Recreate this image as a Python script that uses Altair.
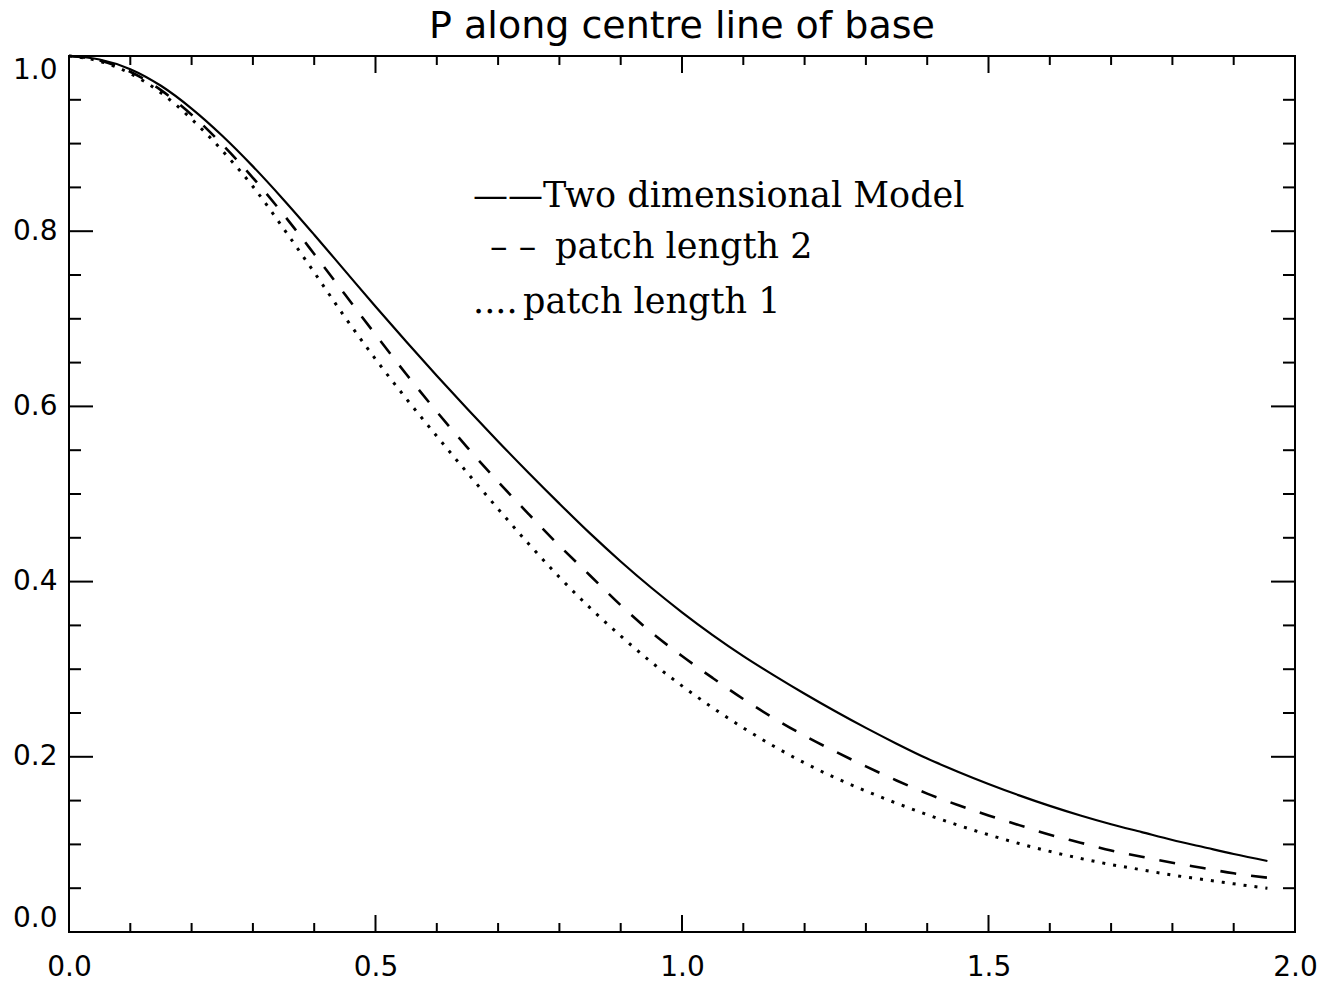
import altair as alt
import pandas as pd

# ---- data ----
x_vals = [0.00, 0.05, 0.10, 0.15, 0.20, 0.25, 0.30, 0.35, 0.40, 0.45,
          0.50, 0.55, 0.60, 0.65, 0.70, 0.75, 0.80, 0.85, 0.90, 0.95,
          1.00, 1.05, 1.10, 1.15, 1.20, 1.25, 1.30, 1.35, 1.40, 1.45,
          1.50, 1.55, 1.60, 1.65, 1.70, 1.75, 1.80, 1.85, 1.90, 1.955]

two_dim = [1.000, 0.996, 0.985, 0.966, 0.940, 0.909, 0.874, 0.836, 0.796, 0.755,
           0.714, 0.674, 0.635, 0.597, 0.560, 0.524, 0.489, 0.455, 0.423, 0.393,
           0.365, 0.339, 0.315, 0.293, 0.272, 0.252, 0.233, 0.215, 0.198, 0.183,
           0.169, 0.156, 0.144, 0.133, 0.123, 0.114, 0.105, 0.097, 0.089, 0.081]

patch2 = [1.000, 0.995, 0.982, 0.961, 0.933, 0.899, 0.861, 0.819, 0.774, 0.728,
          0.682, 0.637, 0.594, 0.553, 0.514, 0.477, 0.441, 0.407, 0.373, 0.342,
          0.315, 0.290, 0.266, 0.244, 0.224, 0.206, 0.189, 0.173, 0.158, 0.145,
          0.133, 0.122, 0.111, 0.102, 0.093, 0.086, 0.079, 0.073, 0.067, 0.062]

patch1 = [1.000, 0.994, 0.980, 0.958, 0.928, 0.892, 0.851, 0.803, 0.753, 0.702,
          0.654, 0.609, 0.566, 0.524, 0.483, 0.443, 0.405, 0.370, 0.338, 0.308,
          0.281, 0.256, 0.233, 0.212, 0.193, 0.176, 0.161, 0.147, 0.134, 0.122,
          0.111, 0.101, 0.092, 0.084, 0.077, 0.071, 0.065, 0.060, 0.055, 0.050]

series_names = ["Two dimensional Model", "patch length 2", "patch length 1"]
legend_symbols = ["\u2014\u2014", "\u2013 \u2013", "...."]

x_major = [0.0, 0.5, 1.0, 1.5, 2.0]
x_minor = [0.1, 0.2, 0.3, 0.4, 0.6, 0.7, 0.8, 0.9, 1.1, 1.2, 1.3, 1.4,
           1.6, 1.7, 1.8, 1.9]
y_major = [0.0, 0.2, 0.4, 0.6, 0.8, 1.0]
y_minor = [0.05, 0.10, 0.15, 0.25, 0.30, 0.35, 0.45, 0.50, 0.55, 0.65,
           0.70, 0.75, 0.85, 0.90, 0.95]

title_text = "P along centre line of base"

# ---- build tables ----
rows = []
for name, ys in zip(series_names, [two_dim, patch2, patch1]):
    for xv, yv in zip(x_vals, ys):
        rows.append({"x": xv, "y": yv, "series": name})
df = pd.DataFrame(rows)

W, H = 1226, 876
xscale = alt.Scale(domain=[0, 2], nice=False, zero=False)
yscale = alt.Scale(domain=[0, 1], nice=False, zero=False)

x_axis = alt.Axis(values=x_major, format=".1f", ticks=False, tickSize=0, domain=False,
                  grid=False, labelFont="DejaVu Sans", labelFontSize=28,
                  labelColor="black", labelPadding=21, labelFlush=False, title=None)
y_axis = alt.Axis(values=y_major, format=".1f", ticks=False, tickSize=0, domain=False,
                  grid=False, labelFont="DejaVu Sans", labelFontSize=28,
                  labelColor="black", labelPadding=12, labelFlush=True, title=None)

base = alt.Chart(df)
styles = [
    dict(strokeWidth=2.2),
    dict(strokeWidth=2.6, strokeDash=[16, 15]),
    dict(strokeWidth=3.0, strokeDash=[3, 8]),
]
line_layers = []
for name, st in zip(series_names, styles):
    line_layers.append(
        base.transform_filter(alt.datum.series == name)
        .mark_line(color="black", interpolate="monotone", **st)
        .encode(x=alt.X("x:Q", scale=xscale, axis=x_axis),
                y=alt.Y("y:Q", scale=yscale, axis=y_axis))
    )

def xticks(vals, length, top):
    d = pd.DataFrame({"v": vals})
    if top:
        ys = dict(y=alt.value(0), y2=alt.value(length))
    else:
        ys = dict(y=alt.value(H), y2=alt.value(H - length))
    return alt.Chart(d).mark_rule(color="black", strokeWidth=2).encode(
        x=alt.X("v:Q", scale=xscale, axis=x_axis), **ys)

def yticks(vals, length, right):
    d = pd.DataFrame({"v": vals})
    if right:
        xs = dict(x=alt.value(W), x2=alt.value(W - length))
    else:
        xs = dict(x=alt.value(0), x2=alt.value(length))
    return alt.Chart(d).mark_rule(color="black", strokeWidth=2).encode(
        y=alt.Y("v:Q", scale=yscale, axis=y_axis), **xs)

tick_layers = [
    xticks(x_major, 17, False), xticks(x_minor, 9, False),
    xticks(x_major, 17, True), xticks(x_minor, 9, True),
    yticks(y_major, 24, False), yticks(y_minor, 12, False),
    yticks(y_major, 24, True), yticks(y_minor, 12, True),
]

# legend (typeset text, as in the original)
sym_pos = [(404, 151), (421, 202), (404, 257)]
lab_pos = [(474, 151), (486, 202), (454, 257)]
legend_layers = []
for i in range(3):
    dsym = pd.DataFrame({"t": [legend_symbols[i]]})
    dlab = pd.DataFrame({"t": [series_names[i]]})
    legend_layers.append(
        alt.Chart(dsym).mark_text(align="left", baseline="alphabetic",
                                  font="DejaVu Serif", fontSize=35, color="black")
        .encode(text="t:N", x=alt.value(sym_pos[i][0]), y=alt.value(sym_pos[i][1]))
    )
    legend_layers.append(
        alt.Chart(dlab).mark_text(align="left", baseline="alphabetic",
                                  font="DejaVu Serif", fontSize=35, color="black")
        .encode(text="t:N", x=alt.value(lab_pos[i][0]), y=alt.value(lab_pos[i][1]))
    )

# title as a text mark centred over the plot
title_layer = alt.Chart(pd.DataFrame({"t": [title_text]})).mark_text(
    align="center", baseline="alphabetic", font="DejaVu Sans", fontSize=38,
    color="black").encode(text="t:N", x=alt.value(W / 2), y=alt.value(-18))

chart = alt.layer(*line_layers, *tick_layers, *legend_layers, title_layer).properties(
    width=W, height=H,
    autosize=alt.AutoSizeParams(type="none"),
    padding={"left": 69, "top": 56, "right": 42, "bottom": 52},
    background="white",
).configure_view(stroke="black", strokeWidth=2)

chart.save("out.html", embed_options={"renderer": "svg", "actions": False})
